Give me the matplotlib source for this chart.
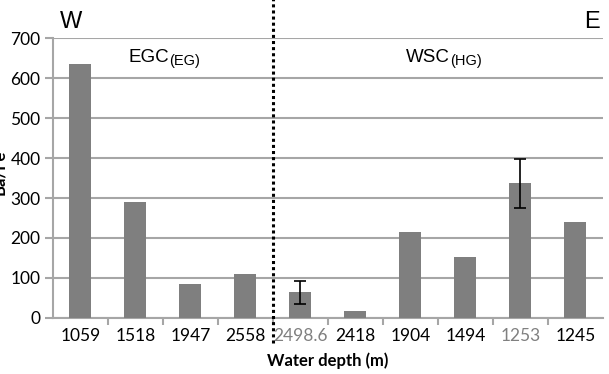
import matplotlib.pyplot as plt
import numpy as np

depths = ["1059", "1518", "1947", "2558", "2498.6", "2418", "1904", "1494", "1253", "1245"]
values = [635, 290, 85, 110, 65, 18, 215, 152, 338, 240]
err_low = [0, 0, 0, 0, 30, 0, 0, 0, 63, 0]
err_high = [0, 0, 0, 0, 27, 0, 0, 0, 60, 0]
grey_labels = ["2498.6", "1253"]

fig = plt.figure(figsize=(6.09, 3.74), dpi=100)
ax = fig.add_axes([0.087, 0.150, 0.903, 0.748])

x = np.arange(len(depths))
ax.bar(x, values, width=0.4, color="#7f7f7f", zorder=3)
has_err = [i for i in x if err_low[i] or err_high[i]]
ax.errorbar(x[has_err], np.array(values)[has_err],
            yerr=[np.array(err_low)[has_err], np.array(err_high)[has_err]],
            fmt="none", ecolor="black", elinewidth=1.2, capsize=4, capthick=1.2, zorder=4)

ax.set_xlim(-0.5, len(depths) - 0.5)
ax.set_ylim(0, 700)
ax.set_yticks(range(0, 701, 100))
ax.yaxis.grid(True, color="#a6a6a6", linewidth=1.5, zorder=0)
ax.set_axisbelow(True)

for s in ["top", "right"]:
    ax.spines[s].set_visible(False)
for s in ["left", "bottom"]:
    ax.spines[s].set_color("#a6a6a6")
    ax.spines[s].set_linewidth(1.5)

ax.set_xticks(x)
ax.set_xticklabels(depths, fontsize=12.5, family="Lato")
for lbl in ax.get_xticklabels():
    if lbl.get_text() in grey_labels:
        lbl.set_color("#808080")
ax.tick_params(axis="x", length=0, pad=7)
ax.set_xticks(np.arange(0.5, len(depths) - 0.5), minor=True)
ax.tick_params(axis="x", which="minor", length=5, color="#a6a6a6", width=1.5, direction="out")
ax.tick_params(axis="y", length=6, color="#a6a6a6", width=1.5, labelsize=12.5, pad=3)
for lbl in ax.get_yticklabels():
    lbl.set_family("Lato")

ax.set_xlabel("Water depth (m)", fontsize=12, fontweight="bold", family="Lato", labelpad=6)
ax.set_ylabel("Ba/Fe", fontsize=12, fontweight="bold", family="Lato")
ax.yaxis.set_label_coords(-0.083, 0.52)

# divider between the two current regions
ax.axvline(3.5, ymin=-0.09, ymax=1.14, color="black", linestyle=(0, (1, 1)),
           linewidth=2.2, clip_on=False, zorder=5)

fig.text(0.098, 0.94, "W", fontsize=17, family="Liberation Sans", ha="left", va="center")
fig.text(0.985, 0.94, "E", fontsize=17, family="Liberation Sans", ha="right", va="center")

def region_label(xc, main, sub):
    t = ax.annotate(main, xy=(xc, 0.93), xycoords=("data", "axes fraction"),
                    fontsize=13.5, family="Liberation Sans", ha="left", va="center")
    ax.annotate(sub, xy=(1, 0.5), xycoords=t, xytext=(0, -2), textcoords="offset points",
                fontsize=10.5, family="Liberation Sans", ha="left", va="center")

region_label(0.88, "EGC", "(EG)")
region_label(5.92, "WSC", "(HG)")

fig.savefig("out.png", dpi=100)
